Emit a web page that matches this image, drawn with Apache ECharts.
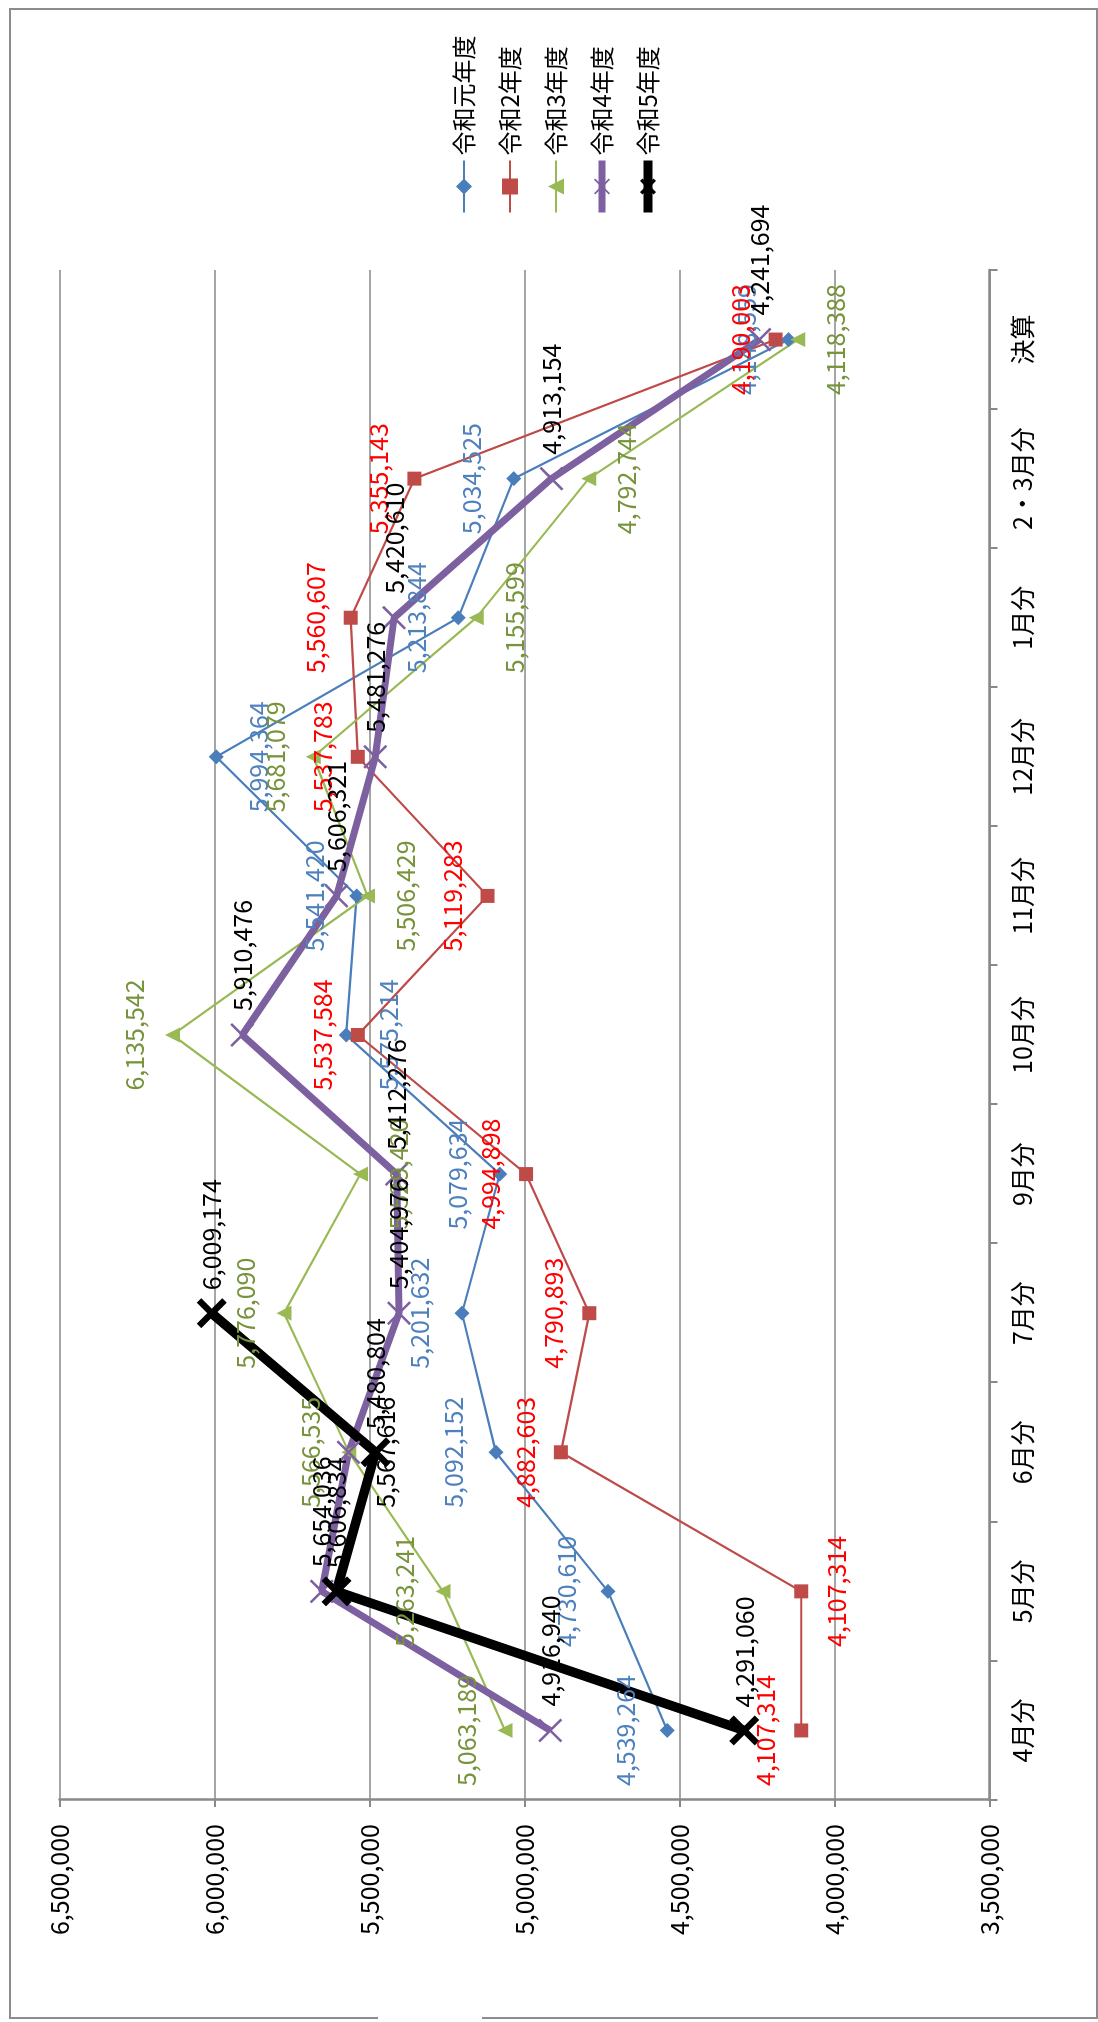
<!DOCTYPE html>
<html>
<head>
<meta charset="utf-8">
<script src="https://cdn.jsdelivr.net/npm/echarts@6/dist/echarts.min.js"></script>
<style>
  html, body { margin: 0; padding: 0; background: #fff; overflow: hidden; }
  #wrap { position: absolute; left: 0; top: 0; width: 1098px; height: 2022px; overflow: hidden; }
  #chart {
    position: absolute; left: 0; top: 0;
    width: 2022px; height: 1098px;
    transform-origin: 0 0;
    transform: translateY(2022px) rotate(-90deg);
  }
</style>
</head>
<body>
<div id="wrap"><div id="chart"></div></div>
<script>
// ---- data ----
const categories = ['4月分', '5月分', '6月分', '7月分', '9月分', '10月分', '11月分', '12月分', '1月分', '2・3月分', '決算'];
const seriesNames = ['令和元年度', '令和2年度', '令和3年度', '令和4年度', '令和5年度'];
const r1 = [4539264, 4730610, 5092152, 5201632, 5079634, 5575214, 5541420, 5994364, 5213844, 5034525, 4148559];
const r2 = [4107314, 4107314, 4882603, 4790893, 4994898, 5537584, 5119283, 5537783, 5560607, 5355143, 4190003];
const r3 = [5063189, 5263241, 5566535, 5776090, 5529420, 6135542, 5506429, 5681079, 5155599, 4792744, 4118388];
const r4 = [4916940, 5654036, 5567616, 5404976, 5412276, 5910476, 5606321, 5481276, 5420610, 4913154, 4241694];
const r5 = [4291060, 5606834, 5480804, 6009174, null, null, null, null, null, null, null];
const valueMin = 3500000;
const valueMax = 6500000;
const valueStep = 500000;

// ---- styling ----
const FONT = '"Noto Sans CJK JP", "Noto Sans", sans-serif';
const GRID_COLOR = '#898989';
const fmt = p => (p.value == null ? '' : Number(p.value).toLocaleString('en-US'));
const X_THIN = 'path://M0,1.5L1.5,0L10,8.5L18.5,0L20,1.5L11.5,10L20,18.5L18.5,20L10,11.5L1.5,20L0,18.5L8.5,10Z';
const X_BOLD = 'path://M0,3L3,0L10,7L17,0L20,3L13,10L20,17L17,20L10,13L3,20L0,17L7,10Z';

const styles = [
  { color: '#4A7EBB', width: 2.2, symbol: 'diamond', size: 15, labelColor: '#4F81BD', pos: 'top', dist: 22 },
  { color: '#BE4B48', width: 2.2, symbol: 'rect', size: 14, labelColor: '#FF0000', pos: 'top', dist: 16 },
  { color: '#98B954', width: 2.2, symbol: 'triangle', size: 15, labelColor: '#77933C', pos: 'top', dist: 18 },
  { color: '#7D60A0', width: 7, symbol: X_THIN, size: 24, labelColor: '#000000', pos: 'right', dist: 12 },
  { color: '#000000', width: 9.5, symbol: X_BOLD, size: 30, labelColor: '#000000', pos: 'right', dist: 8 }
];
// points whose label sits on the other side of the marker (as in the reference)
const flippedLabels = [[5, 7], [1], [4, 6, 8, 9, 10], [2], []];
const dataSets = [r1, r2, r3, r4, r5];

const series = seriesNames.map((name, i) => {
  const s = styles[i];
  const items = dataSets[i].map((v, j) =>
    flippedLabels[i].indexOf(j) >= 0 ? { value: v, label: { position: 'bottom' } } : v
  );
  return {
    name: name,
    type: 'line',
    data: items,
    color: s.color,
    symbol: s.symbol,
    symbolSize: s.size,
    showAllSymbol: true,
    connectNulls: false,
    lineStyle: { color: s.color, width: s.width },
    itemStyle: { color: s.color, borderWidth: 0 },
    label: {
      show: true,
      position: s.pos,
      distance: s.dist,
      color: s.labelColor,
      fontSize: 25,
      fontFamily: FONT,
      formatter: fmt
    },
    emphasis: { disabled: true }
  };
});

const legendData = seriesNames.map((name, i) => ({
  name: name,
  lineStyle: { width: Math.min(styles[i].width, 9), color: styles[i].color }
}));

const chart = echarts.init(document.getElementById('chart'));
chart.setOption({
  animation: false,
  backgroundColor: '#ffffff',
  grid: { left: 222, right: 270, top: 59.5, bottom: 108.5, containLabel: false },
  legend: {
    data: legendData,
    orient: 'vertical',
    left: 1805,
    top: 452,
    padding: 0,
    itemWidth: 52,
    itemHeight: 20,
    itemGap: 22,
    textStyle: { fontSize: 24, lineHeight: 24, color: '#000', fontFamily: FONT }
  },
  xAxis: {
    type: 'category',
    data: categories,
    boundaryGap: true,
    axisLine: { show: true, lineStyle: { color: GRID_COLOR, width: 2.5 } },
    axisTick: { show: true, length: 8, lineStyle: { color: GRID_COLOR, width: 2 } },
    axisLabel: { margin: 20, fontSize: 25, color: '#000', fontFamily: FONT, interval: 0 },
    splitLine: { show: false }
  },
  yAxis: {
    type: 'value',
    min: valueMin,
    max: valueMax,
    interval: valueStep,
    axisLine: { show: true, lineStyle: { color: GRID_COLOR, width: 2.5 } },
    axisTick: { show: true, length: 7, lineStyle: { color: GRID_COLOR, width: 2 } },
    axisLabel: {
      margin: 24, fontSize: 25, color: '#000', fontFamily: FONT,
      formatter: v => Number(v).toLocaleString('en-US')
    },
    splitLine: { show: true, lineStyle: { color: GRID_COLOR, width: 1.5 } }
  },
  series: series,
  graphic: [
    {
      type: 'rect', silent: true, z: 100,
      shape: { x: 4, y: 10, width: 2009, height: 1087 },
      style: { fill: null, stroke: '#8c8c8c', lineWidth: 2 }
    },
    {
      type: 'rect', silent: true, z: 101,
      shape: { x: 0, y: 378, width: 9, height: 104 },
      style: { fill: '#ffffff', stroke: null }
    }
  ]
});
</script>
</body>
</html>
